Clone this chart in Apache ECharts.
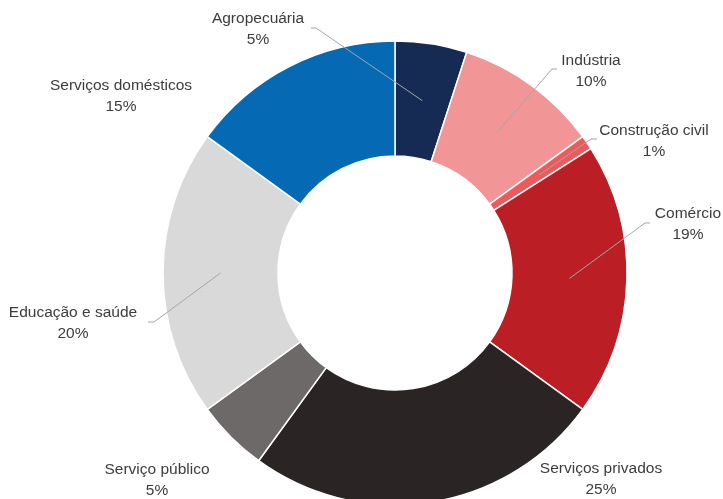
<!DOCTYPE html>
<html>
<head>
<meta charset="utf-8">
<script src="https://cdn.jsdelivr.net/npm/echarts@6/dist/echarts.min.js"></script>
<style>
  html, body { margin: 0; padding: 0; background: #fff; }
  #chart { width: 723px; height: 499px; }
</style>
</head>
<body>
<div id="chart"></div>
<script>
// Employment share by sector (%)
const sectors = ['Agropecuária', 'Indústria', 'Construção civil', 'Comércio',
                 'Serviços privados', 'Serviço público', 'Educação e saúde', 'Serviços domésticos'];
const shares = [5, 10, 1, 19, 25, 5, 20, 15];

const sliceColors = ['#152b53', '#f29596', '#ec5a5c', '#bb1e24',
                     '#2b2425', '#6d6968', '#d9d9d9', '#0569b3'];

const CX = 395, CY = 273, R0 = 117, R1 = 232;

// Where each label sits (centre of the two-line block) and where its leader line begins
const labelSpots = {
  'Agropecuária':        { x: 258, y: 29,  from: [311, 28],  stub: 5 },
  'Indústria':           { x: 591, y: 71,  from: [557, 69],  stub: -5 },
  'Construção civil':    { x: 654, y: 141, from: [597, 139], stub: -6 },
  'Comércio':            { x: 688, y: 224, from: [650, 223], stub: -5 },
  'Serviços privados':   { x: 601, y: 479, from: null },
  'Serviço público':     { x: 157, y: 480, from: null },
  'Educação e saúde':    { x: 73,  y: 323, from: [148, 322], stub: 6 },
  'Serviços domésticos': { x: 121, y: 96,  from: null }
};

const total = shares.reduce((a, b) => a + b, 0);
// mid-angle point of each slice at the middle of the ring (clockwise from 12 o'clock)
function ringMidPoint(i) {
  let before = 0;
  for (let k = 0; k < i; k++) before += shares[k];
  const frac = (before + shares[i] / 2) / total;
  const a = frac * 2 * Math.PI;
  const r = (R0 + R1) / 2;
  return [CX + r * Math.sin(a), CY - r * Math.cos(a)];
}

const chart = echarts.init(document.getElementById('chart'), null, { renderer: 'canvas' });

const ringBase = {
  type: 'pie',
  center: [CX, CY],
  radius: [R0, R1],
  startAngle: 90,
  clockwise: true,
  avoidLabelOverlap: false
};

chart.setOption({
  animation: false,
  backgroundColor: '#ffffff',
  series: [
    // coloured ring
    Object.assign({}, ringBase, {
      z: 2,
      itemStyle: { borderColor: '#ffffff', borderWidth: 1.5 },
      label: { show: false },
      labelLine: { show: false },
      data: sectors.map((name, i) => ({
        name: name,
        value: shares[i],
        itemStyle: { color: sliceColors[i] }
      }))
    }),
    // labels and leader lines, drawn above the ring
    Object.assign({}, ringBase, {
      z: 5,
      silent: true,
      itemStyle: { color: 'rgba(0,0,0,0)', borderWidth: 0 },
      label: {
        show: true,
        position: 'outside',
        formatter: '{b}\n{c}%',
        fontFamily: 'Liberation Sans, Arial, sans-serif',
        fontSize: 15.5,
        lineHeight: 21,
        color: '#3c3c3c',
        align: 'center'
      },
      labelLine: {
        show: true,
        lineStyle: { color: '#a6a6a6', width: 1 }
      },
      labelLayout: function (params) {
        const name = sectors[params.dataIndex];
        const spot = labelSpots[name];
        const out = { x: spot.x, y: spot.y, align: 'center', verticalAlign: 'middle' };
        if (spot.from) {
          const p0 = spot.from;
          const p1 = [p0[0] + spot.stub, p0[1]];
          out.labelLinePoints = [p0, p1, ringMidPoint(params.dataIndex)];
        }
        return out;
      },
      data: sectors.map((name, i) => ({
        name: name,
        value: shares[i],
        labelLine: { show: !!labelSpots[name].from }
      }))
    })
  ]
});
</script>
</body>
</html>
